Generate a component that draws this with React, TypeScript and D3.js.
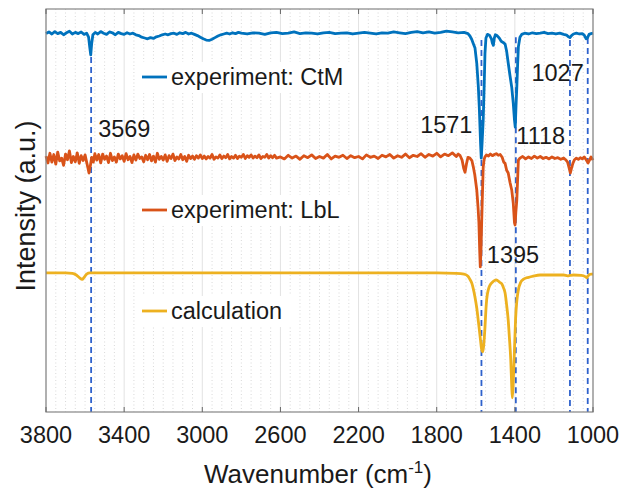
import React from 'react';
import * as d3 from 'd3';

// wavenumber (cm-1) / intensity (a.u.) pairs
const ctmWave = [
  3800, 3785, 3770, 3755, 3740, 3725, 3710, 3695, 3680, 3665, 3650, 3635, 3620, 3605, 3592, 3582, 3576, 3571, 3566, 3560,
  3548, 3535, 3520, 3505, 3490, 3475, 3460, 3445, 3430, 3415, 3400, 3385, 3370, 3355, 3340, 3325, 3310, 3295, 3280, 3265,
  3250, 3235, 3220, 3205, 3190, 3175, 3160, 3145, 3130, 3115, 3100, 3085, 3070, 3055, 3040, 3025, 3010, 2995, 2980, 2965,
  2950, 2935, 2920, 2905, 2890, 2875, 2860, 2845, 2830, 2815, 2800, 2770, 2740, 2710, 2680, 2650, 2620, 2590, 2560, 2530,
  2500, 2470, 2440, 2410, 2380, 2350, 2320, 2290, 2260, 2230, 2200, 2170, 2140, 2110, 2080, 2050, 2020, 1990, 1960, 1930,
  1900, 1870, 1840, 1810, 1780, 1750, 1720, 1690, 1660, 1640, 1630, 1621, 1612, 1604, 1595, 1587, 1582, 1578, 1575, 1572,
  1568, 1562, 1557, 1553, 1548, 1540, 1530, 1520, 1515, 1510, 1505, 1500, 1492, 1480, 1470, 1460, 1450, 1442, 1434, 1425,
  1416, 1408, 1402, 1398, 1394, 1390, 1386, 1382, 1374, 1365, 1350, 1330, 1310, 1290, 1270, 1250, 1230, 1210, 1190, 1170,
  1150, 1135, 1125, 1118, 1110, 1100, 1085, 1070, 1055, 1045, 1035, 1028, 1020, 1010, 1000,
];
const ctmValue = [
  93.9, 94.3, 93.8, 94.4, 93.9, 94.2, 93.6, 94.1, 94.5, 93.8, 94.2, 93.9, 94.3, 93.7, 94.0, 93.0, 90.5, 88.6, 91.5, 93.6,
  94.2, 93.8, 94.4, 94.0, 93.7, 94.3, 94.1, 93.6, 94.2, 93.9, 93.7, 94.1, 93.8, 94.0, 93.6, 93.4, 93.0, 92.8, 92.6, 92.9,
  92.7, 93.1, 93.3, 93.6, 93.8, 93.6, 93.9, 94.0, 93.7, 94.1, 93.9, 94.2, 93.8, 94.0, 93.7, 93.4, 93.0, 92.6, 92.3, 92.2,
  92.5, 92.9, 93.3, 93.6, 93.8, 94.0, 93.8, 94.1, 93.9, 94.2, 94.0, 93.8, 94.1, 94.0, 93.7, 94.1, 94.2, 93.9, 94.0, 94.3,
  93.9, 94.1, 94.0, 93.8, 94.1, 94.2, 93.9, 94.0, 94.1, 93.8, 94.0, 94.2, 94.0, 93.8, 94.1, 94.0, 94.3, 94.1, 93.9, 94.2,
  94.4, 94.1, 94.3, 94.0, 94.2, 94.5, 94.3, 94.1, 94.2, 93.9, 93.3, 92.5, 91.3, 90.3, 86.5, 80.7, 75.5, 70.0, 66.0, 63.0,
  66.5, 72.5, 81.0, 89.0, 92.8, 93.7, 93.5, 92.6, 91.5, 91.0, 92.8, 93.6, 93.4, 92.8, 92.0, 91.7, 91.3, 89.5, 86.6, 83.5,
  80.6, 76.5, 72.5, 70.7, 76.0, 80.6, 86.0, 90.6, 93.0, 93.7, 94.0, 93.8, 94.1, 93.9, 94.0, 94.2, 93.9, 94.0, 93.8, 94.0,
  93.7, 93.5, 93.1, 92.9, 93.4, 93.8, 94.0, 93.8, 93.9, 93.5, 92.6, 92.9, 93.7, 93.9, 94.0,
];

const lblWave = [
  3800, 3790, 3780, 3770, 3760, 3750, 3740, 3730, 3720, 3710, 3700, 3690, 3680, 3670, 3660, 3650, 3640, 3630, 3620, 3610,
  3600, 3592, 3585, 3580, 3574, 3566, 3558, 3550, 3540, 3530, 3520, 3510, 3500, 3490, 3480, 3470, 3460, 3450, 3440, 3430,
  3420, 3410, 3400, 3390, 3380, 3370, 3360, 3350, 3340, 3330, 3320, 3310, 3300, 3290, 3280, 3270, 3260, 3250, 3240, 3230,
  3220, 3210, 3200, 3190, 3180, 3170, 3160, 3150, 3140, 3130, 3120, 3110, 3100, 3090, 3080, 3070, 3060, 3050, 3040, 3030,
  3020, 3010, 3000, 2990, 2980, 2970, 2960, 2950, 2940, 2930, 2920, 2910, 2900, 2890, 2880, 2870, 2860, 2850, 2840, 2830,
  2820, 2810, 2800, 2790, 2780, 2770, 2760, 2750, 2740, 2730, 2720, 2710, 2700, 2690, 2680, 2670, 2660, 2650, 2640, 2630,
  2620, 2600, 2580, 2560, 2540, 2520, 2500, 2480, 2460, 2440, 2420, 2400, 2380, 2360, 2340, 2320, 2300, 2280, 2260, 2240,
  2220, 2200, 2180, 2160, 2140, 2120, 2100, 2080, 2060, 2040, 2020, 2000, 1980, 1960, 1940, 1920, 1900, 1880, 1860, 1840,
  1820, 1800, 1780, 1760, 1740, 1720, 1700, 1690, 1680, 1670, 1662, 1655, 1648, 1640, 1630, 1620, 1613, 1605, 1595, 1588,
  1584, 1580, 1577, 1573, 1570, 1566, 1562, 1557, 1553, 1545, 1535, 1525, 1515, 1505, 1495, 1485, 1475, 1465, 1457, 1450,
  1442, 1434, 1425, 1416, 1408, 1402, 1399, 1395, 1390, 1386, 1382, 1374, 1360, 1345, 1330, 1315, 1300, 1285, 1270, 1255,
  1240, 1225, 1210, 1195, 1180, 1165, 1150, 1140, 1130, 1122, 1116, 1110, 1103, 1095, 1085, 1075, 1065, 1055, 1045, 1035,
  1025, 1018, 1010, 1000,
];
const lblValue = [
  63.5, 61.8, 64.2, 62.0, 63.9, 61.5, 64.5, 62.3, 63.0, 61.2, 64.0, 62.6, 64.8, 61.9, 63.4, 62.1, 64.3, 61.7, 63.6, 62.4,
  63.8, 62.0, 60.5, 59.3, 60.8, 63.2, 62.0, 64.1, 62.5, 63.9, 61.8, 64.0, 62.7, 63.5, 61.9, 64.2, 62.4, 63.3, 62.0, 64.0,
  62.8, 63.6, 62.2, 64.1, 62.6, 63.4, 61.9, 63.8, 62.5, 64.0, 62.9, 63.3, 62.1, 63.7, 62.6, 63.9, 62.3, 63.5, 62.0, 64.2,
  62.7, 63.4, 62.5, 63.8, 62.2, 63.6, 62.9, 64.0, 62.4, 63.3, 62.8, 63.9, 62.6, 63.4, 62.2, 63.7, 62.9, 63.5, 62.7, 63.6,
  63.0, 63.8, 62.9, 63.5, 62.8, 63.4, 63.0, 63.9, 62.7, 63.3, 63.0, 63.8, 62.9, 63.5, 63.1, 63.9, 62.8, 63.4, 63.0, 63.7,
  62.9, 63.5, 63.2, 63.9, 62.9, 63.6, 63.2, 63.8, 63.0, 63.5, 63.1, 63.8, 62.9, 63.4, 63.2, 63.9, 63.0, 63.6, 63.1, 63.7,
  63.0, 63.3, 62.8, 63.7, 63.0, 63.5, 62.7, 63.6, 63.1, 63.8, 62.9, 63.4, 63.0, 63.9, 62.8, 63.5, 63.2, 63.7, 62.9, 63.6,
  63.1, 63.4, 62.8, 63.8, 63.2, 63.5, 62.9, 63.7, 63.3, 63.9, 63.0, 63.6, 63.2, 64.0, 63.1, 63.7, 63.4, 64.1, 63.2, 63.9,
  63.5, 64.2, 63.3, 64.0, 63.6, 64.3, 63.4, 64.0, 63.6, 62.5, 60.5, 59.5, 61.5, 63.2, 63.0, 62.4, 60.9, 58.8, 55.1, 50.5,
  46.9, 40.0, 36.0, 40.5, 46.9, 54.0, 60.8, 62.8, 63.3, 63.8, 63.5, 64.0, 63.6, 63.9, 64.1, 63.7, 63.9, 63.2, 62.0, 61.7,
  60.0, 59.3, 57.0, 55.1, 51.7, 47.0, 46.4, 49.5, 52.6, 57.5, 62.5, 63.0, 63.4, 62.8, 63.3, 62.9, 63.5, 63.0, 63.4, 62.9,
  63.2, 62.8, 63.3, 62.9, 63.1, 62.7, 63.0, 62.6, 62.0, 60.5, 59.3, 60.5, 61.7, 62.6, 63.0, 62.7, 63.1, 62.8, 63.3, 62.6,
  61.8, 62.5, 63.3, 62.5,
];

const calcWave = [
  3800, 3700, 3665, 3645, 3628, 3615, 3605, 3592, 3575, 3400, 3000, 2600, 2200, 1800, 1700, 1660, 1640, 1630, 1620, 1613,
  1604, 1595, 1588, 1582, 1576, 1570, 1564, 1559, 1553, 1548, 1544, 1535, 1527, 1515, 1505, 1495, 1488, 1478, 1467, 1458,
  1450, 1442, 1434, 1428, 1421, 1416, 1413, 1409, 1404, 1399, 1396, 1390, 1382, 1370, 1357, 1340, 1323, 1300, 1271, 1200,
  1150, 1130, 1118, 1100, 1060, 1040, 1032, 1025, 1010, 1000,
];
const calcValue = [
  34.5, 34.5, 34.4, 34.0, 33.3, 32.9, 33.4, 34.2, 34.5, 34.5, 34.5, 34.5, 34.5, 34.5, 34.4, 34.2, 33.7, 32.9, 31.9, 30.6,
  28.5, 25.8, 23.0, 20.5, 17.9, 15.5, 14.9, 16.8, 21.0, 25.5, 28.0, 30.5, 31.5, 32.2, 32.6, 32.8, 32.6, 32.2, 31.8, 30.8,
  29.5, 26.5, 22.8, 18.5, 12.9, 6.5, 3.5, 6.5, 12.9, 19.5, 23.3, 27.5, 30.3, 32.2, 32.9, 33.3, 33.5, 33.8, 34.0, 34.0,
  34.0, 33.8, 33.9, 34.0, 33.9, 33.6, 33.3, 33.8, 34.2, 34.2,
];

const xTicks = [3800, 3400, 3000, 2600, 2200, 1800, 1400, 1000];
const peaks = [3569, 1571, 1395, 1118, 1027];
const peakTop = [88.1, 92.3, 93.0, 92.3, 92.8];
const legendLabels = ['experiment: CtM', 'experiment: LbL', 'calculation'];
const colors = ['#0072BD', '#D95319', '#EDB120'];

const W = 619;
const H = 491;
const m = { left: 46, right: 593, top: 9, bottom: 412 };
const font = '"Liberation Sans", Arial, sans-serif';

export default function App() {
  const x = d3.scaleLinear().domain([3800, 1000]).range([m.left, m.right]);
  const y = d3.scaleLinear().domain([0, 100]).range([m.bottom, m.top]);

  const pts = (w: number[], v: number[]) => w.map((d, i) => [d, v[i]] as [number, number]);
  const lineLin = d3.line<[number, number]>().x(d => x(d[0])).y(d => y(d[1]));
  const lineSmooth = d3.line<[number, number]>().x(d => x(d[0])).y(d => y(d[1])).curve(d3.curveMonotoneX);

  const minor = d3.range(3800, 999, -50).filter(v => (3800 - v) % 400 !== 0);

  // legend rows (line sample y)
  const legendY = [77, 210, 311];

  // peak labels: [text, x, baseline, anchor]
  const labels: [string, number, number, string][] = [
    ['3569', x(3569) + 7, 137, 'start'],
    ['1571', x(1571) - 9, 133, 'end'],
    ['1118', x(1395) + 0.5, 144, 'start'],
    ['1027', x(1027) - 4, 81, 'end'],
    ['1395', x(1395) - 29, 263, 'start'],
  ];

  return (
    <svg width={W} height={H} style={{ position: 'absolute', left: 0, top: 0, background: '#fff' }} fontFamily={font}>
      <rect width={W} height={H} fill="#fff" />
      {/* grid */}
      {minor.map(v => (
        <line key={'mn' + v} x1={x(v)} x2={x(v)} y1={m.top} y2={m.bottom} stroke="#cfcfcf" strokeWidth={0.8} strokeDasharray="1 2.5" />
      ))}
      {xTicks.map(v => (
        <line key={'mj' + v} x1={x(v)} x2={x(v)} y1={m.top} y2={m.bottom} stroke="#e2e2e2" strokeWidth={1} />
      ))}
      {/* legend boxes */}
      {legendY.map((ly, i) => (
        <rect key={'lb' + i} x={136} y={ly - 15} width={i === 2 ? 156 : 218} height={31} fill="#fff" />
      ))}
      {/* peak markers */}
      {peaks.map((p, i) => (
        <line key={'pk' + p} x1={x(p)} x2={x(p)} y1={y(peakTop[i])} y2={m.bottom} stroke="#2f62cc" strokeWidth={1.8} strokeDasharray="6 4" />
      ))}
      {/* spectra */}
      <path d={lineSmooth(pts(calcWave, calcValue)) || ''} fill="none" stroke={colors[2]} strokeWidth={2.8} strokeLinejoin="round" />
      <path d={lineLin(pts(lblWave, lblValue)) || ''} fill="none" stroke={colors[1]} strokeWidth={2.8} strokeLinejoin="round" />
      <path d={lineLin(pts(ctmWave, ctmValue)) || ''} fill="none" stroke={colors[0]} strokeWidth={2.8} strokeLinejoin="round" />
      {/* frame */}
      <rect x={m.left} y={m.top} width={m.right - m.left} height={m.bottom - m.top} fill="none" stroke="#858585" strokeWidth={1.2} />
      {xTicks.map(v => (
        <g key={'tk' + v}>
          <line x1={x(v)} x2={x(v)} y1={m.top} y2={m.top + 5} stroke="#666" strokeWidth={1} />
          <line x1={x(v)} x2={x(v)} y1={m.bottom} y2={m.bottom - 5} stroke="#666" strokeWidth={1} />
          <text x={x(v)} y={443} textAnchor="middle" fontSize={23.5} fill="#1a1a1a">{v}</text>
        </g>
      ))}
      {/* legend */}
      {legendLabels.map((t, i) => (
        <g key={'lg' + i}>
          <line x1={142} x2={167} y1={legendY[i]} y2={legendY[i]} stroke={colors[i]} strokeWidth={2.8} />
          <text x={171} y={legendY[i] + 8} fontSize={23.5} fill="#1a1a1a">{t}</text>
        </g>
      ))}
      {labels.map(([t, lx, ly, a]) => (
        <text key={'lab' + t} x={lx} y={ly} textAnchor={a} fontSize={23.5} fill="#1a1a1a">{t}</text>
      ))}
      {/* axis labels */}
      <text x={318} y={483} textAnchor="middle" fontSize={26} fill="#1a1a1a">
        Wavenumber (cm<tspan dy={-10} fontSize={17}>-1</tspan><tspan dy={10}>)</tspan>
      </text>
      <text transform="translate(35,206) rotate(-90)" textAnchor="middle" fontSize={27} fill="#1a1a1a">Intensity (a.u.)</text>
    </svg>
  );
}
